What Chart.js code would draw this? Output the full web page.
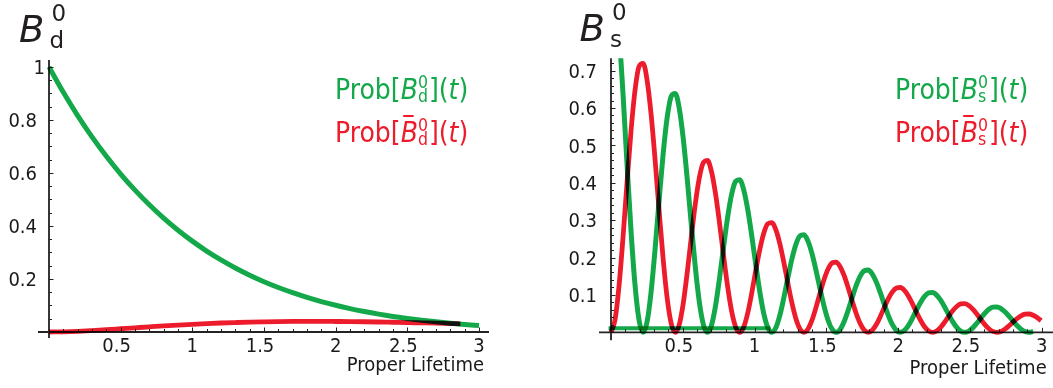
<!DOCTYPE html>
<html>
<head>
<meta charset="utf-8">
<script src="https://cdn.jsdelivr.net/npm/chart.js@4.4.1/dist/chart.umd.min.js"></script>
<style>
  html, body { margin: 0; padding: 0; background: #fff; }
  #wrap { position: relative; width: 1053px; height: 388px; overflow: hidden; background: #fff; }
  canvas { position: absolute; top: 0; }
  #chartBd { left: 0; width: 540px; height: 388px; }
  #chartBs { left: 540px; width: 513px; height: 388px; }
</style>
</head>
<body>
<div id="wrap">
  <canvas id="chartBd" width="540" height="388"></canvas>
  <canvas id="chartBs" width="513" height="388"></canvas>
</div>
<script>
// ---- B_d^0 panel: decay probabilities vs proper lifetime ----
const bdTimes = [0, 0.1, 0.2, 0.3, 0.4, 0.5, 0.6, 0.7, 0.8, 0.9, 1.0, 1.1, 1.2, 1.3, 1.4, 1.5,
  1.6, 1.7, 1.8, 1.9, 2.0, 2.1, 2.2, 2.3, 2.4, 2.5, 2.6, 2.7, 2.8, 2.9, 3.0];
const bdProbB = [1, 0.9042, 0.8164, 0.7361, 0.6628, 0.5959, 0.5351, 0.4797, 0.4294, 0.3839,
  0.3427, 0.3054, 0.2718, 0.2414, 0.2142, 0.1897, 0.1677, 0.1481, 0.1305, 0.1148,
  0.1008, 0.0883, 0.0773, 0.0675, 0.0588, 0.0510, 0.0443, 0.0383, 0.0330, 0.0284, 0.0244];
const bdBarTimes = [0, 0.1, 0.2, 0.3, 0.4, 0.5, 0.6, 0.7, 0.8, 0.9, 1.0, 1.1, 1.2, 1.3, 1.4, 1.5,
  1.6, 1.7, 1.8, 1.9, 2.0, 2.1, 2.2, 2.3, 2.4, 2.5, 2.6, 2.7, 2.8, 2.87];
const bdProbBbar = [0, 0.0007, 0.0026, 0.0054, 0.0086, 0.0122, 0.0158, 0.0194, 0.0229, 0.0261,
  0.0290, 0.0316, 0.0339, 0.0357, 0.0373, 0.0384, 0.0393, 0.0398, 0.0401, 0.0400,
  0.0397, 0.0393, 0.0386, 0.0377, 0.0367, 0.0357, 0.0345, 0.0333, 0.0319, 0.0310];
const bdYTicks = [0.2, 0.4, 0.6, 0.8, 1];
const bdYLabels = ['0.2', '0.4', '0.6', '0.8', '1'];

// ---- B_s^0 panel: fast oscillation ----
const bsTimes = [0, 0.028, 0.056, 0.084, 0.112, 0.14, 0.168, 0.196, 0.224, 0.252, 0.28, 0.308, 0.336, 0.364, 0.392, 0.42,
  0.448, 0.476, 0.504, 0.532, 0.56, 0.588, 0.616, 0.644, 0.672, 0.7, 0.728, 0.756, 0.784, 0.812, 0.84, 0.868,
  0.896, 0.924, 0.952, 0.98, 1.008, 1.036, 1.064, 1.092, 1.12, 1.148, 1.176, 1.204, 1.232, 1.26, 1.288, 1.316,
  1.344, 1.372, 1.4, 1.428, 1.456, 1.484, 1.512, 1.54, 1.568, 1.596, 1.624, 1.652, 1.68, 1.708, 1.736, 1.764,
  1.792, 1.82, 1.848, 1.876, 1.904, 1.932, 1.96, 1.988, 2.016, 2.044, 2.072, 2.1, 2.128, 2.156, 2.184, 2.212,
  2.24, 2.268, 2.296, 2.324, 2.352, 2.38, 2.408, 2.436, 2.464, 2.492, 2.52, 2.548, 2.576, 2.604, 2.632, 2.66,
  2.688, 2.716, 2.744, 2.772, 2.8, 2.828, 2.856, 2.884, 2.912, 2.94, 2.968, 2.996];
const bsProbB = [
  1, 0.9354, 0.8071, 0.6356, 0.4470, 0.2683, 0.1238, 0.0313, 0, 0.0296, 0.1107, 0.2268, 0.3573, 0.4804, 0.5768, 0.6320,
  0.6389, 0.5976, 0.5156, 0.4061, 0.2856, 0.1714, 0.0791, 0.0200, 0, 0.0189, 0.0707, 0.1449, 0.2283, 0.3069, 0.3685, 0.4038,
  0.4082, 0.3818, 0.3294, 0.2595, 0.1825, 0.1095, 0.0505, 0.0128, 0, 0.0121, 0.0452, 0.0926, 0.1458, 0.1961, 0.2354, 0.2580,
  0.2608, 0.2439, 0.2105, 0.1658, 0.1166, 0.0700, 0.0323, 0.0082, 0, 0.0077, 0.0289, 0.0592, 0.0932, 0.1253, 0.1504, 0.1648,
  0.1666, 0.1558, 0.1345, 0.1059, 0.0745, 0.0447, 0.0206, 0.0052, 0, 0.0049, 0.0184, 0.0378, 0.0595, 0.0800, 0.0961, 0.1053,
  0.1064, 0.0996, 0.0859, 0.0677, 0.0476, 0.0286, 0.0132, 0.0033, 0, 0.0032, 0.0118, 0.0242, 0.0380, 0.0511, 0.0614, 0.0673,
  0.0680, 0.0636, 0.0549, 0.0432, 0.0304, 0.0183, 0.0084, 0.0021, 0, 0.0020];
const bsProbBbar = [
  0, 0.0333, 0.1246, 0.2554, 0.4023, 0.5409, 0.6494, 0.7117, 0.7194, 0.6729, 0.5806, 0.4573, 0.3216, 0.1930, 0.0891, 0.0225,
  0, 0.0213, 0.0796, 0.1632, 0.2570, 0.3456, 0.4149, 0.4547, 0.4596, 0.4299, 0.3709, 0.2921, 0.2055, 0.1233, 0.0569, 0.0144,
  0, 0.0136, 0.0509, 0.1043, 0.1642, 0.2208, 0.2651, 0.2905, 0.2936, 0.2747, 0.2370, 0.1866, 0.1313, 0.0788, 0.0364, 0.0092,
  0, 0.0087, 0.0325, 0.0666, 0.1049, 0.1411, 0.1693, 0.1856, 0.1876, 0.1755, 0.1514, 0.1192, 0.0839, 0.0503, 0.0232, 0.0059,
  0, 0.0056, 0.0208, 0.0426, 0.0670, 0.0901, 0.1082, 0.1186, 0.1199, 0.1121, 0.0967, 0.0762, 0.0536, 0.0322, 0.0148, 0.0038,
  0, 0.0036, 0.0133, 0.0272, 0.0428, 0.0576, 0.0691, 0.0758, 0.0766, 0.0716, 0.0618, 0.0487, 0.0342, 0.0206, 0.0095, 0.0024,
  0, 0.0023, 0.0085, 0.0174, 0.0274, 0.0368, 0.0442, 0.0484, 0.0489, 0.0458, 0.0395, 0.0311];
// flat green trace lying just above the time axis
const bsFloorTimes = [-0.017, 1.11];
const bsFloor = [0.011, 0.011];
const bsYTicks = [0.1, 0.2, 0.3, 0.4, 0.5, 0.6, 0.7];
const bsYLabels = ['0.1', '0.2', '0.3', '0.4', '0.5', '0.6', '0.7'];

// shared time axis
const xTicks = [0.5, 1, 1.5, 2, 2.5, 3];
const xLabels = ['0.5', '1', '1.5', '2', '2.5', '3'];

const GREEN = '#13a84a';
const RED = '#ec1c2c';
const INK = '#1a1a1a';
const FONT = '"DejaVu Sans Condensed", "DejaVu Sans", sans-serif';
const TITLE_FONT = '"DejaVu Sans", sans-serif';

const toPoints = (ts, vs) => vs.map((v, i) => ({ x: ts[i], y: v }));

// Mathematica-style axes: lines crossing at the origin, inward minor/major ticks,
// tick labels placed from the scales. Curves are composited with "multiply"
// so red over green turns dark.
const mathAxes = {
  id: 'mathAxes',
  beforeDatasetsDraw(chart, args, o) {
    const { ctx, chartArea: a, scales: { x, y } } = chart;
    const x0 = x.getPixelForValue(0), y0 = y.getPixelForValue(0);
    ctx.save();
    ctx.strokeStyle = '#222';
    ctx.lineWidth = 1.8;
    ctx.beginPath();
    ctx.moveTo(x0 - o.xOverLeft, y0);
    ctx.lineTo(x.getPixelForValue(x.max) + o.xOverRight, y0);
    ctx.moveTo(x0, a.top);
    ctx.lineTo(x0, y0 + o.yOverBottom);
    ctx.stroke();
    ctx.lineWidth = 1;
    ctx.beginPath();
    for (let i = 1; i * o.xMinor <= x.max + 1e-9; i++) {
      const v = i * o.xMinor;
      const major = Math.abs(v / o.xMajor - Math.round(v / o.xMajor)) < 1e-6;
      const px = Math.round(x.getPixelForValue(v)) + 0.5;
      ctx.moveTo(px, y0);
      ctx.lineTo(px, y0 - (major ? 4.5 : 3));
    }
    for (let i = 1; i * o.yMinor <= y.max + 1e-9; i++) {
      const v = i * o.yMinor;
      const major = Math.abs(v / o.yMajor - Math.round(v / o.yMajor)) < 1e-6;
      const py = Math.round(y.getPixelForValue(v)) + 0.5;
      ctx.moveTo(x0, py);
      ctx.lineTo(x0 + (major ? 4.5 : 3), py);
    }
    ctx.stroke();

    // tick labels
    ctx.fillStyle = INK;
    ctx.font = '20px ' + FONT;
    ctx.textBaseline = 'alphabetic';
    ctx.textAlign = 'center';
    o.xTicks.forEach((v, i) => {
      const lab = o.xLabels[i];
      const nudge = lab.indexOf('.') >= 0 ? -4 : 0;
      ctx.fillText(lab, x.getPixelForValue(v) + nudge, y0 + 19.5);
    });
    ctx.textAlign = 'right';
    o.yTicks.forEach((v, i) => {
      const nudge = (o.yNudge && o.yNudge[i]) || 0;
      ctx.fillText(o.yLabels[i], x0 - o.yPad + nudge, y.getPixelForValue(v) + 7.3);
    });
    ctx.restore();

    ctx.save();
    ctx.globalCompositeOperation = 'multiply';
  },
  afterDatasetsDraw(chart) {
    chart.ctx.restore();
  }
};

function drawProbLabel(ctx, x, base, sub, bar, color) {
  const reg = '28px ' + FONT, ital = 'italic 28px ' + FONT, small = '17.5px ' + FONT;
  ctx.fillStyle = color;
  ctx.textAlign = 'left';
  ctx.textBaseline = 'alphabetic';
  ctx.font = reg; ctx.fillText('Prob[', x, base); x += ctx.measureText('Prob[').width;
  ctx.font = ital; ctx.fillText('B', x, base);
  const bw = ctx.measureText('B').width;
  if (bar) ctx.fillRect(x + 0.15 * bw, base - 27, 0.6 * bw, 2);
  x += bw;
  ctx.font = small;
  ctx.fillText('0', x, base - 11);
  ctx.fillText(sub, x, base + 3);
  x += Math.max(ctx.measureText('0').width, ctx.measureText(sub).width) + 1;
  ctx.font = reg; ctx.fillText('](', x, base); x += ctx.measureText('](').width;
  ctx.font = ital; ctx.fillText('t', x, base); x += ctx.measureText('t').width;
  ctx.font = reg; ctx.fillText(')', x, base);
}

// panel title, legend text and axis caption
const mathText = {
  id: 'mathText',
  afterDraw(chart, args, o) {
    const { ctx, scales: { x } } = chart;
    ctx.save();
    ctx.fillStyle = '#231f20';
    ctx.textAlign = 'left';
    ctx.textBaseline = 'alphabetic';
    ctx.font = 'italic 37px ' + TITLE_FONT;
    ctx.fillText('B', o.titleX, o.titleBase);
    const w = ctx.measureText('B').width;
    ctx.font = '23px ' + TITLE_FONT;
    ctx.fillText('0', o.titleX + w + 7, o.titleBase - 21);
    ctx.fillText(o.sub, o.titleX + w + 5, o.titleBase + 6);

    drawProbLabel(ctx, o.legendX, o.legendBase, o.sub, false, GREEN);
    drawProbLabel(ctx, o.legendX, o.legendBase + 43, o.sub, true, RED);

    ctx.fillStyle = INK;
    ctx.font = '20px ' + FONT;
    ctx.textAlign = 'right';
    ctx.fillText('Proper Lifetime', x.getPixelForValue(3) + 5, o.captionBase);
    ctx.restore();
  }
};

function panel(id, p) {
  const line = (ts, vs, color, width) => ({
    data: toPoints(ts, vs),
    borderColor: color,
    borderWidth: width,
    pointRadius: 0,
    fill: false,
    cubicInterpolationMode: 'monotone',
    borderJoinStyle: 'round',
    clip: { left: 3, top: 0, right: 6, bottom: 4 }
  });
  return new Chart(document.getElementById(id), {
    type: 'line',
    data: { datasets: p.series.map(s => line(s[0], s[1], s[2], s[3])) },
    options: {
      responsive: false,
      animation: false,
      events: [],
      layout: { padding: { left: 0, top: p.top, right: p.right, bottom: 0 } },
      plugins: {
        legend: { display: false },
        tooltip: { enabled: false },
        mathAxes: Object.assign({ xTicks, xLabels, yTicks: p.yTicks, yLabels: p.yLabels, yPad: p.yPad, yNudge: p.yNudge }, p.axes),
        mathText: p.text
      },
      scales: {
        x: {
          type: 'linear', min: 0, max: 3,
          grid: { display: false }, border: { display: false },
          afterFit: s => { s.height = p.xHeight; },
          ticks: { display: false }
        },
        y: {
          type: 'linear', min: 0, max: p.yMax,
          grid: { display: false }, border: { display: false },
          afterFit: s => { s.width = p.yWidth; },
          ticks: { display: false }
        }
      }
    },
    plugins: [mathAxes, mathText]
  });
}

panel('chartBd', {
  series: [
    [bdTimes, bdProbB, GREEN, 5],
    [bdBarTimes, bdProbBbar, RED, 4.8]
  ],
  top: 60, right: 61, xHeight: 56, yWidth: 49, yMax: 1.026, yPad: 12, yNudge: [0, 0, 0, 0, 8],
  yTicks: bdYTicks, yLabels: bdYLabels,
  axes: { xMinor: 0.1, xMajor: 0.5, yMinor: 0.05, yMajor: 0.2, xOverLeft: 11, xOverRight: 10, yOverBottom: 6 },
  text: { sub: 'd', titleX: 19, titleBase: 42, legendX: 335, legendBase: 99, captionBase: 371 }
});

panel('chartBs', {
  series: [
    [bsTimes, bsProbB, GREEN, 5],
    [bsTimes, bsProbBbar, RED, 4.8],
    [bsFloorTimes, bsFloor, GREEN, 4]
  ],
  top: 58.3, right: 11.3, xHeight: 55.7, yWidth: 71, yMax: 0.733, yPad: 14,
  yTicks: bsYTicks, yLabels: bsYLabels,
  axes: { xMinor: 0.1, xMajor: 0.5, yMinor: 0.02, yMajor: 0.1, xOverLeft: 12, xOverRight: 12, yOverBottom: 8 },
  text: { sub: 's', titleX: 39.5, titleBase: 41, legendX: 355, legendBase: 99, captionBase: 374 }
});
</script>
</body>
</html>
